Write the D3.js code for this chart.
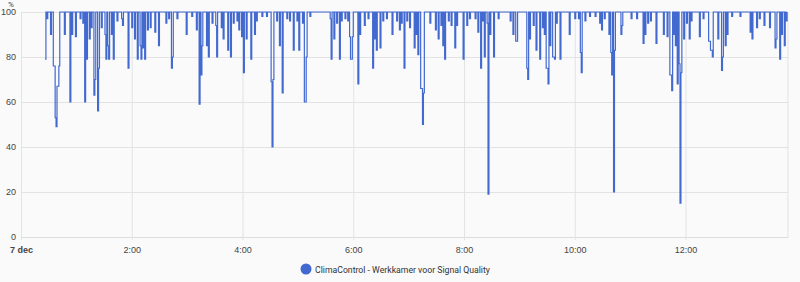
<!DOCTYPE html>
<html>
<head>
<meta charset="utf-8">
<script src="https://cdn.jsdelivr.net/npm/d3@7"></script>
<style>
  body { margin: 0; background: #fafafa; }
  svg { display: block; font-family: Roboto, sans-serif; }
</style>
</head>
<body>
<svg></svg>
<script>
var width = 800;
var height = 282;

// minutes after midnight (7 dec) and signal quality in %
var samples = [
  [26,79],[27,100],[28,97],[29,100],[32,90],[33,100],[35,76],[37,53],[38,49],[39,67],[41,76],[42,100],[47,90],[48,100],[53,60],[54,100],[55,90],[56,100],[59,89],[60,100],[64,97],[65,100],[67,95],[68,100],[69,60],[70,100],[71,79],[72,100],[74,88],[75,100],[76,93],[77,100],[79,63],[80,70],[81,100],[83,56],[84,75],[85,100],[87,93],[88,100],[91,90],[92,79],[93,100],[94,85],[95,79],[96,100],[98,90],[99,100],[100,79],[101,100],[104,96],[105,100],[109,97],[110,94],[111,100],[116,75],[117,100],[120,93],[121,100],[123,88],[124,100],[126,79],[127,100],[129,85],[130,79],[131,100],[132,84],[133,100],[134,79],[135,100],[137,92],[138,100],[140,93],[141,100],[145,91],[146,100],[149,85],[150,100],[157,95],[158,100],[160,97],[161,100],[163,75],[164,80],[165,100],[169,97],[170,100],[179,90],[180,100],[185,98],[186,100],
  [190,92],[191,100],[193,59],[194,100],[195,72],[196,85],[197,100],[201,85],[202,100],[203,80],[204,100],[207,95],[208,100],[211,94],[212,80],[213,100],[217,93],[218,100],[219,88],[220,100],[224,83],[225,100],[227,80],[228,100],[230,95],[231,100],[234,96],[235,100],[236,92],[237,100],[239,89],[240,100],[241,73],[242,100],[244,88],[245,100],[249,79],[250,100],[253,90],[254,100],[255,96],[256,100],[261,98],[262,100],[266,98],[267,100],[271,69],[272,40],[273,70],[274,100],[277,96],[278,100],[280,85],[281,100],[283,64],[284,100],[288,97],[289,100],[291,96],[292,100],[295,83],[296,100],[299,96],[300,100],[301,83],[302,100],[305,95],[306,100],[307,60],[309,80],[310,100],[313,98],[314,100],[335,97],[336,79],[337,100],[339,88],[340,100],[342,95],[343,100],[345,79],[346,100],[347,96],[348,100],[351,97],[352,100],[354,96],[355,100],
  [356,89],[357,79],[359,89],[360,100],[365,68],[366,100],[367,90],[368,100],[372,94],[373,100],[376,97],[377,100],[381,75],[382,100],[383,88],[384,100],[385,83],[386,100],[389,84],[390,100],[392,96],[393,100],[396,97],[397,100],[402,90],[403,100],[407,96],[408,100],[410,92],[411,100],[412,95],[413,100],[415,75],[416,100],[418,96],[419,100],[421,93],[422,100],[426,84],[427,100],[428,90],[429,100],[430,81],[431,100],[433,66],[435,50],[436,64],[437,100],[443,95],[444,100],[449,92],[450,100],[452,88],[453,100],[455,94],[456,100],[457,85],[458,100],[459,79],[460,100],[463,96],[464,100],[466,94],[467,100],[470,84],[471,100],[472,94],[473,100],[479,79],[480,100],[483,94],[484,100],[486,97],[487,100],[492,97],[493,100],[495,91],[496,100],[498,75],[499,100],[500,96],[501,100],[502,80],[503,100],[505,95],[506,19],[507,100],[508,90],[509,100],[512,80],[513,100],[517,97],[518,100],
  [530,96],[531,100],[533,90],[534,100],[536,87],[538,100],[548,75],[549,70],[550,100],[551,88],[552,100],[555,94],[556,100],[558,83],[559,100],[562,79],[563,100],[565,93],[566,100],[567,90],[568,100],[569,75],[571,68],[572,100],[573,85],[574,100],[576,80],[578,79],[579,100],[580,95],[581,100],[584,79],[585,100],[594,90],[595,100],[600,97],[601,100],[604,97],[605,100],[606,82],[607,73],[608,100],[611,96],[612,100],[616,98],[617,100],[622,98],[623,100],[627,95],[628,100],[629,92],[630,100],[632,97],[633,100],[637,90],[638,100],[639,82],[640,72],[641,100],[642,20],[643,83],[644,100],[650,90],[651,94],[652,100],[661,97],[662,100],[667,97],[668,100],[674,86],[675,100],[676,90],[677,100],[679,95],[680,100],[682,96],[683,100],[688,86],[689,100],
  [696,90],[697,100],[700,89],[701,100],[703,72],[705,65],[706,100],[707,90],[708,100],[709,85],[710,100],[711,68],[712,100],[713,77],[714,15],[715,73],[716,100],[718,88],[719,100],[721,95],[722,100],[724,88],[725,100],[726,96],[727,100],[735,89],[736,100],[739,97],[740,100],[745,87],[747,83],[749,80],[750,100],[755,88],[756,100],[759,74],[760,80],[761,100],[763,85],[764,100],[765,90],[766,100],[770,98],[771,100],[779,98],[780,100],[790,91],[791,100],[792,88],[793,100],[797,93],[798,100],[800,97],[801,100],[805,94],[806,100],[811,93],[812,100],[817,84],[818,88],[819,100],[822,79],[823,100],[824,90],[825,100],[827,85],[828,100],[829,96],[830,100]
];

var xTicks = [0, 120, 240, 360, 480, 600, 720];
var xTickLabels = ["7 dec", "2:00", "4:00", "6:00", "8:00", "10:00", "12:00"];
var yTicks = [0, 20, 40, 60, 80, 100];
var seriesName = "ClimaControl - Werkkamer voor Signal Quality";

var plotLeft = 21, plotRight = 788, plotTop = 12, plotBottom = 237;

var xScale = d3.scaleLinear()
                .domain([0, 831])
                .range([plotLeft, plotRight]);
var yScale = d3.scaleLinear()
                .domain([0, 100])
                .range([plotBottom, plotTop]);

var svg = d3.select("svg")
    .attr("width", width)
    .attr("height", height);

// horizontal grid + y labels
var yAxis = d3.axisLeft(yScale)
                .tickValues(yTicks)
                .tickSize(-(plotRight - plotLeft))
                .tickSizeOuter(0)
                .tickPadding(6);
var gy = svg.append("g")
    .attr("transform", "translate(" + plotLeft + ",0)")
    .call(yAxis);
gy.select(".domain").attr("stroke", "#dcdcdc");
gy.selectAll(".tick line").attr("stroke", "#e3e3e3");
gy.selectAll(".tick text")
    .attr("x", -5)
    .attr("fill", "#444")
    .style("font-size", "9px");

// vertical grid + x labels
var xAxis = d3.axisBottom(xScale)
                .tickValues(xTicks)
                .tickFormat((d, i) => xTickLabels[i])
                .tickSize(-(plotBottom - plotTop))
                .tickSizeOuter(0)
                .tickPadding(6);
var gx = svg.append("g")
    .attr("transform", "translate(0," + plotBottom + ")")
    .call(xAxis);
gx.select(".domain").attr("stroke", "#dcdcdc");
gx.selectAll(".tick line")
    .attr("stroke", "#e3e3e3")
    .attr("y1", -(plotBottom - plotTop))
    .attr("y2", 3);
gx.selectAll(".tick text")
    .attr("y", 10)
    .attr("fill", "#444")
    .style("font-size", "9px")
    .style("font-weight", (d, i) => i === 0 ? "bold" : null);

// right border
svg.append("line")
    .attr("x1", plotRight).attr("x2", plotRight)
    .attr("y1", plotTop).attr("y2", plotBottom)
    .attr("stroke", "#e3e3e3");

svg.append("text")
    .attr("x", 8)
    .attr("y", 7)
    .attr("fill", "#444")
    .style("font-size", "8px")
    .text("%");

var line = d3.line()
    .x(d => xScale(d[0]))
    .y(d => yScale(d[1]))
    .curve(d3.curveStepAfter);

svg.append("path")
    .datum(samples)
    .attr("fill", "none")
    .attr("stroke", "#4269d0")
    .attr("stroke-width", 1.2)
    .attr("d", line);

// legend
var legend = svg.append("g");
legend.append("circle")
    .attr("cx", 306)
    .attr("cy", 269)
    .attr("r", 5.5)
    .attr("fill", "#4269d0");
legend.append("text")
    .attr("x", 315)
    .attr("y", 272.5)
    .attr("fill", "#333")
    .style("font-size", "8.7px")
    .text(seriesName);
</script>
</body>
</html>
